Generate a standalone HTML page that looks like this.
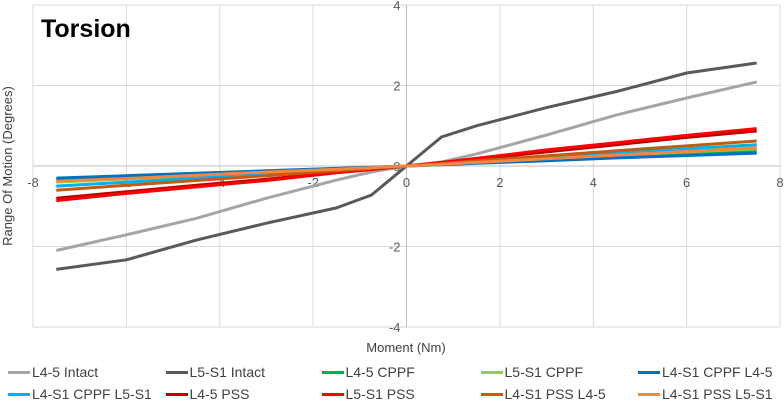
<!DOCTYPE html>
<html><head><meta charset="utf-8"><style>
body{margin:0;background:#fff;font-family:"Liberation Sans",sans-serif;}
#wrap{position:relative;width:784px;height:405px;overflow:hidden;}
.leg{position:absolute;font-family:"Liberation Sans Narrow","Liberation Sans",sans-serif;font-size:14px;color:#404040;white-space:nowrap;display:flex;align-items:center;}
.leg span.sw{display:inline-block;width:22px;height:3px;margin-right:2px;}
</style></head><body>
<div id="wrap">
<svg id="svg" width="784" height="405"></svg>
<div id="legend"></div>
</div>
<script>
const xVals=[-7.5,-6,-4.5,-3,-1.5,-0.75,0,0.75,1.5,3,4.5,6,7.5];
const names=["L4-5 Intact","L5-S1 Intact","L4-5 CPPF","L5-S1 CPPF","L4-S1 CPPF L4-5","L4-S1 CPPF L5-S1","L4-5 PSS","L5-S1 PSS","L4-S1 PSS L4-5","L4-S1 PSS L5-S1"];
const colors=["#a5a5a5","#595959","#00b050","#92d050","#0070c0","#00b0f0","#c00000","#ff0000","#c55a11","#f4873d"];
const sL45Intact=[-2.1,-1.71,-1.3,-0.8,-0.35,-0.15,0,0.1,0.3,0.77,1.27,1.69,2.09];
const sL5S1Intact=[-2.57,-2.33,-1.84,-1.42,-1.04,-0.72,0,0.72,1.0,1.45,1.85,2.31,2.56];
const sL45CPPF=[-0.35,-0.28,-0.21,-0.14,-0.07,-0.035,0,0.04,0.08,0.15,0.23,0.31,0.38];
const sL5S1CPPF=[-0.4,-0.32,-0.24,-0.16,-0.08,-0.04,0,0.04,0.09,0.17,0.26,0.35,0.43];
const sL4S1CPPFL45=[-0.3,-0.24,-0.18,-0.12,-0.06,-0.03,0,0.03,0.07,0.13,0.2,0.26,0.32];
const sL4S1CPPFL5S1=[-0.5,-0.4,-0.3,-0.2,-0.1,-0.05,0,0.05,0.11,0.21,0.32,0.43,0.53];
const sL45PSS=[-0.8,-0.64,-0.48,-0.33,-0.16,-0.08,0,0.08,0.17,0.35,0.53,0.71,0.87];
const sL5S1PSS=[-0.86,-0.68,-0.52,-0.36,-0.17,-0.09,0,0.09,0.19,0.4,0.58,0.76,0.93];
const sL4S1PSSL45=[-0.6,-0.48,-0.36,-0.24,-0.12,-0.06,0,0.06,0.13,0.25,0.38,0.5,0.62];
const sL4S1PSSL5S1=[-0.38,-0.31,-0.23,-0.15,-0.08,-0.04,0,0.04,0.09,0.18,0.27,0.36,0.45];
const series=[sL45Intact,sL5S1Intact,sL45CPPF,sL5S1CPPF,sL4S1CPPFL45,sL4S1CPPFL5S1,sL45PSS,sL5S1PSS,sL4S1PSSL45,sL4S1PSSL5S1];
const xTicks=[-8,-6,-4,-2,0,2,4,6,8];
const yTicks=[-4,-2,0,2,4];
const xTickLabels=["-8","-6","-4","-2","0","2","4","6","8"];
const yTickLabels=["-4","-2","0","2","4"];

const X0=33,X1=780,Y0=327,Y1=5;
const sx=v=>X0+(v+8)/16*(X1-X0);
const sy=v=>Y0-(v+4)/8*(Y0-Y1);
const NS="http://www.w3.org/2000/svg";
const svg=document.getElementById('svg');
function mk(t,a){const e=document.createElementNS(NS,t);for(const k in a)e.setAttribute(k,a[k]);svg.appendChild(e);return e;}
xTicks.forEach(v=>{const l=mk('line',{x1:sx(v),x2:sx(v),y1:Y1,y2:Y0,stroke:'#d9d9d9','stroke-width':1});

});
yTicks.forEach(v=>{const l=mk('line',{x1:X0,x2:X1,y1:sy(v),y2:sy(v),stroke:'#d9d9d9','stroke-width':1});

});
mk('line',{x1:sx(0),x2:sx(0),y1:Y1,y2:Y0,stroke:'#bfbfbf'});
mk('line',{x1:X0,x2:X1,y1:sy(0),y2:sy(0),stroke:'#bfbfbf'});
xTicks.forEach((v,i)=>{const t=mk('text',{x:sx(v),y:sy(0)+21,'text-anchor':'middle','font-size':13,fill:'#595959'});t.textContent=xTickLabels[i];

});
yTicks.forEach((v,i)=>{const t=mk('text',{x:sx(0)-6,y:sy(v)+5,'text-anchor':'end','font-size':13,fill:'#595959'});t.textContent=yTickLabels[i];

});
series.forEach((s,i)=>{const d=s.map((v,j)=>(j?'L':'M')+sx(xVals[j]).toFixed(1)+','+sy(v).toFixed(1)).join('');
const p=mk('path',{d:d,fill:'none',stroke:colors[i],'stroke-width':3,'stroke-linejoin':'round'});

});
let t=mk('text',{x:41,y:37,'font-size':25,'font-weight':'bold',fill:'#000'});t.textContent='Torsion';


t=mk('text',{x:406,y:352,'text-anchor':'middle','font-size':13,fill:'#404040','font-family':'Liberation Sans Narrow, Liberation Sans, sans-serif'});t.textContent='Moment (Nm)';


t=mk('text',{x:0,y:0,'text-anchor':'middle','font-size':13,fill:'#404040',transform:'translate(12,166) rotate(-90)','font-family':'Liberation Sans Narrow, Liberation Sans, sans-serif'});t.textContent='Range Of Motion (Degrees)';


const legend=document.getElementById('legend');
const rowY=[372,394];
names.forEach((n,i)=>{const d=document.createElement('div');d.className='leg';


d.style.left=[8,113,217,323,428][i%5]*1.5-4+'px';d.style.top=(rowY[Math.floor(i/5)]-8)+'px';
d.innerHTML='<span class="sw" style="background:'+colors[i]+'"></span>'+n;legend.appendChild(d);});
</script>
</body></html>
